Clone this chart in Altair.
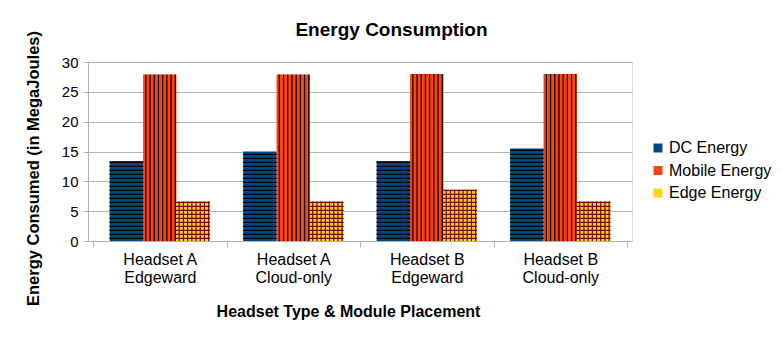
import altair as alt
import pandas as pd

# ---- data ----
chart_title = "Energy Consumption"
group_line1 = ["Headset A", "Headset A", "Headset B", "Headset B"]
group_line2 = ["Edgeward", "Cloud-only", "Edgeward", "Cloud-only"]
series = ["DC Energy", "Mobile Energy", "Edge Energy"]
dc_energy = [13.4, 15.0, 13.4, 15.5]
mobile_energy = [27.9, 27.9, 28.0, 28.0]
edge_energy = [6.6, 6.6, 8.6, 6.6]
y_ticks = [0, 5, 10, 15, 20, 25, 30]

# ---- styles ----
fill_colors = ["#004586", "#ff420e", "#ffd320"]
hatch_colors = ["#000000", "#000000", "#800000"]
horiz_hatch = [True, False, True]   # horizontal stripes
vert_hatch = [False, True, True]    # vertical stripes
FONT = "Liberation Sans"
W, H = 544, 179
NG = len(group_line1)
BAR = 0.25  # bar width in group units

values_by_series = [dc_energy, mobile_energy, edge_energy]
rows = []
for si, (s, vals) in enumerate(zip(series, values_by_series)):
    for gi, v in enumerate(vals):
        rows.append({
            "group": group_line1[gi] + " " + group_line2[gi],
            "series": s, "value": v, "gi": gi, "si": si,
            "hatch": hatch_colors[si],
            "hh": horiz_hatch[si], "vh": vert_hatch[si],
        })
df = pd.DataFrame(rows)

label_expr = ""
for gi in range(NG):
    label_expr += f"datum.value == {gi + 0.5} ? ['{group_line1[gi]}', '{group_line2[gi]}'] : "
label_expr += "''"

x_axis = alt.Axis(
    values=[i * 0.5 for i in range(2 * NG + 1)],
    labelExpr=label_expr,
    labelFont=FONT, labelFontSize=16, labelColor="#000000",
    labelLineHeight=18, labelPadding=4, labelBaseline="top",
    tickSize=6, tickColor={"condition": {"test": "datum.value % 1 === 0", "value": "#b3b3b3"},
                           "value": "transparent"},
    domainColor="#b3b3b3", grid=False,
    title="Headset Type & Module Placement",
    titleFont=FONT, titleFontSize=16, titleFontWeight="bold", titleColor="#000000",
    titleX=260, titleY=75, titleBaseline="alphabetic", titleAlign="center",
    labelFlush=False, labelOverlap=False,
)
y_axis = alt.Axis(
    values=y_ticks, grid=True, gridColor="#b3b3b3", gridWidth=1,
    tickSize=5, tickColor="#b3b3b3", domainColor="#b3b3b3",
    labelFont=FONT, labelFontSize=15, labelColor="#000000", labelPadding=5,
    title="Energy Consumed (in MegaJoules)",
    titleFont=FONT, titleFontSize=16.5, titleFontWeight="bold", titleColor="#000000",
    titleX=-50, titleY=106, titleAngle=-90, titleBaseline="alphabetic", titleAlign="center",
)

x_scale = alt.Scale(domain=[0, NG], nice=False, zero=False)
y_scale = alt.Scale(domain=[0, 30], nice=False)

base = alt.Chart(df).transform_calculate(
    xc="datum.gi + 0.5 + (datum.si - 1) * %f" % BAR,
).transform_calculate(
    xl="datum.xc - %f" % (BAR / 2),
    xr="datum.xc + %f" % (BAR / 2),
    half="datum.value / 2",
    zero="0",
)

bars = base.mark_bar(orient="vertical").encode(
    x=alt.X("xl:Q", scale=x_scale, axis=x_axis),
    x2="xr:Q",
    y=alt.Y("value:Q", scale=y_scale, axis=y_axis),
    y2="zero:Q",
    color=alt.Color(
        "series:N",
        scale=alt.Scale(domain=series, range=fill_colors),
        sort=series,
        legend=alt.Legend(
            title=None, orient="none", legendX=562, legendY=78,
            symbolType="square", symbolSize=81, symbolStrokeWidth=0,
            labelFont=FONT, labelFontSize=16, labelColor="#000000",
            labelOffset=3, rowPadding=6.5, padding=0,
        ),
    ),
)

bar_px = BAR * W / NG

h_stripes = base.transform_filter("datum.hh").mark_rule(
    strokeWidth=bar_px, strokeDash=[1.3, 2.7], strokeDashOffset=2, strokeCap="butt"
).encode(
    x=alt.X("xc:Q", scale=x_scale, axis=x_axis),
    y=alt.Y("zero:Q", scale=y_scale, axis=y_axis),
    y2="value:Q",
    stroke=alt.Stroke("hatch:N", scale=None),
)

v_stripes = base.transform_filter("datum.vh").mark_rule(
    strokeDash=[1.2, 3.0], strokeDashOffset=2, strokeCap="butt"
).encode(
    x=alt.X("xl:Q", scale=x_scale, axis=x_axis),
    x2="xr:Q",
    y=alt.Y("half:Q", scale=y_scale, axis=y_axis),
    strokeWidth=alt.StrokeWidth("value:Q", scale=alt.Scale(domain=[0, 30], range=[0, H]), legend=None),
    stroke=alt.Stroke("hatch:N", scale=None),
)

title_mark = alt.Chart(pd.DataFrame({"t": [chart_title]})).mark_text(
    font=FONT, fontSize=19, fontWeight="bold", color="#000000",
    align="center", baseline="alphabetic",
).encode(
    text="t:N",
    x=alt.value(303.5),
    y=alt.value(-26),
)

chart = alt.layer(bars, h_stripes, v_stripes, title_mark).properties(
    width=W, height=H,
    autosize=alt.AutoSizeParams(type="none"),
    padding={"left": 80, "top": 54, "right": 143, "bottom": 91},
).configure_view(
    stroke="#b3b3b3", strokeWidth=1,
).configure(background="#ffffff")

chart.save("out.html", embed_options={"renderer": "svg", "actions": False})
